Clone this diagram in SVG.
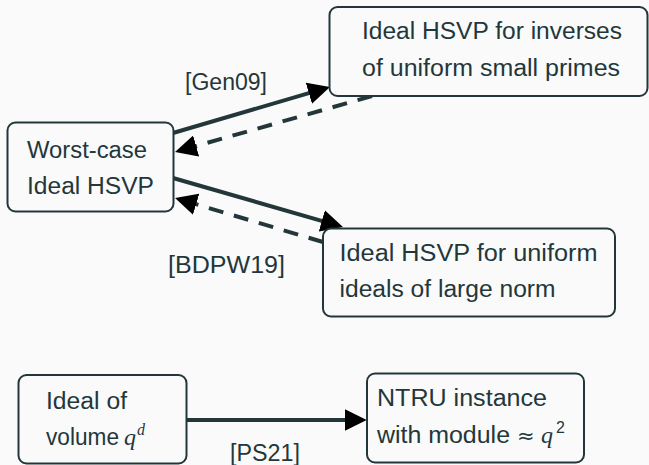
<svg xmlns="http://www.w3.org/2000/svg" width="649" height="465" viewBox="0 0 649 465">
<style>
.box{fill:#fafafa;stroke:#23373b;stroke-width:2}
.t{font-family:"Liberation Sans","DejaVu Sans",sans-serif;font-size:23px;fill:#23373b}
.m{font-family:"Liberation Serif","DejaVu Serif",serif;font-style:italic;font-size:24px}
.sup{font-size:16px}
.approx{font-family:"DejaVu Sans",sans-serif;font-size:21px}
.edge{stroke:#23373b;stroke-width:4;fill:none}
.dash{stroke-dasharray:15 11}
</style>
<defs>
<marker id="ah" viewBox="0 0 22 22" markerUnits="userSpaceOnUse" markerWidth="22" markerHeight="22" refX="16" refY="11" orient="auto">
<path d="M0,0 L22,11 L0,22 Z" fill="#000"/>
</marker>
</defs>
<rect width="649" height="465" fill="#fafafa"/>
<g id="connectors">
<line class="edge" x1="173" y1="133" x2="324.2" y2="88.7" marker-end="url(#ah)"/>
<line class="edge dash" x1="372" y1="96" x2="180.8" y2="150.4" marker-end="url(#ah)"/>
<line class="edge" x1="173" y1="178" x2="337.2" y2="225.3" marker-end="url(#ah)"/>
<line class="edge dash" x1="323" y1="242" x2="180.8" y2="199.7" marker-end="url(#ah)"/>
<line class="edge" x1="187" y1="420" x2="360.7" y2="420" marker-end="url(#ah)"/>
<text class="t" x="185" y="90" textLength="82" lengthAdjust="spacingAndGlyphs">[Gen09]</text>
<text class="t" x="168" y="273" textLength="117" lengthAdjust="spacingAndGlyphs">[BDPW19]</text>
<text class="t" x="230" y="461" textLength="70" lengthAdjust="spacingAndGlyphs">[PS21]</text>
</g>
<g id="worst-case">
<rect class="box" x="7.5" y="122.5" width="166" height="89" rx="8"/>
<text class="t" x="27" y="158" textLength="120" lengthAdjust="spacingAndGlyphs">Worst-case</text>
<text class="t" x="27" y="194" textLength="127" lengthAdjust="spacingAndGlyphs">Ideal HSVP</text>
</g>
<g id="inverses">
<rect class="box" x="329.5" y="7" width="318" height="89" rx="8"/>
<text class="t" x="362" y="39" textLength="260" lengthAdjust="spacingAndGlyphs">Ideal HSVP for inverses</text>
<text class="t" x="362" y="76" textLength="258" lengthAdjust="spacingAndGlyphs">of uniform small primes</text>
</g>
<g id="uniform">
<rect class="box" x="323" y="228.5" width="292" height="88" rx="8"/>
<text class="t" x="339.5" y="261" textLength="258" lengthAdjust="spacingAndGlyphs">Ideal HSVP for uniform</text>
<text class="t" x="339.5" y="297" textLength="216" lengthAdjust="spacingAndGlyphs">ideals of large norm</text>
</g>
<g id="ideal-volume">
<rect class="box" x="18.5" y="375" width="168" height="88.5" rx="8"/>
<text class="t" x="46" y="409" textLength="81" lengthAdjust="spacingAndGlyphs">Ideal of</text>
<text class="t" x="46" y="445"><tspan textLength="73" lengthAdjust="spacingAndGlyphs">volume</tspan><tspan class="m" x="124">q</tspan><tspan class="m sup" x="137" dy="-10">d</tspan></text>
</g>
<g id="ntru">
<rect class="box" x="367" y="373.5" width="217" height="89" rx="8"/>
<text class="t" x="377" y="406" textLength="170" lengthAdjust="spacingAndGlyphs">NTRU instance</text>
<text class="t" x="377" y="443"><tspan textLength="133" lengthAdjust="spacingAndGlyphs">with module</tspan><tspan class="approx" x="517">≈</tspan><tspan class="m" x="541">q</tspan><tspan class="sup" x="556" dy="-10">2</tspan></text>
</g>
</svg>
